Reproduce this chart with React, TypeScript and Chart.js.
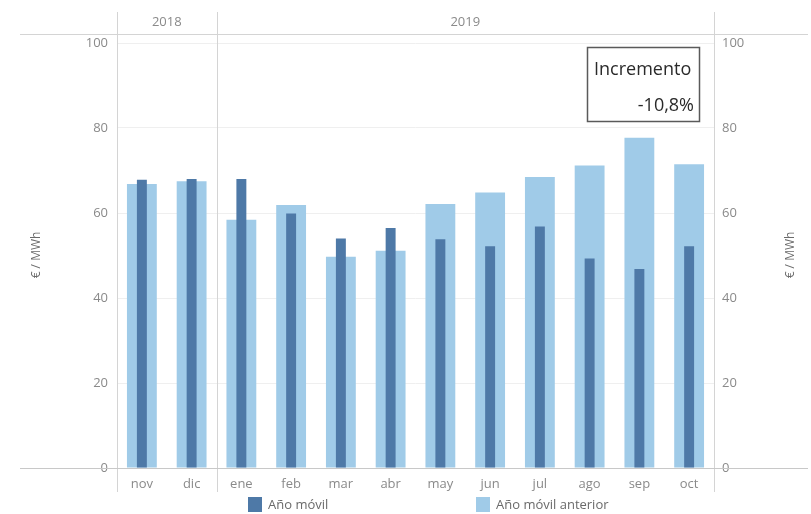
import React, { useEffect, useRef } from "react";
import { Chart, registerables } from "chart.js";

Chart.register(...registerables);

const categories = ["nov", "dic", "ene", "feb", "mar", "abr", "may", "jun", "jul", "ago", "sep", "oct"];
const yearLabels = ["2018", "2019"];
const yearStartIndex = [0, 2];
const anoMovil = [67.8, 68.0, 68.0, 59.9, 54.0, 56.5, 53.8, 52.2, 56.8, 49.3, 46.8, 52.2];
const anoMovilAnterior = [66.8, 67.5, 58.4, 61.9, 49.7, 51.1, 62.1, 64.8, 68.5, 71.2, 77.7, 71.5];
const seriesNames = ["Año móvil", "Año móvil anterior"];
const yTicks = [0, 20, 40, 60, 80, 100];
const axisTitle = "€ / MWh";
const boxTitle = "Incremento";
const boxValue = "-10,8%";

const DARK = "#4e79a7";
const LIGHT = "#a0cbe8";
const TEXT = "#8a8a8a";
const LINE = "#d4d4d4";
const FONT = "'Open Sans', sans-serif";

const overlay = {
  id: "overlay",
  afterDraw(chart: any) {
    const ctx = chart.ctx;
    const area = chart.chartArea;
    const x = chart.scales.x;
    ctx.save();
    // frame lines
    ctx.strokeStyle = LINE;
    ctx.lineWidth = 1;
    const vx: number[] = [area.left];
    for (let i = 1; i < yearStartIndex.length; i++) {
      const k = yearStartIndex[i];
      vx.push((x.getPixelForValue(k - 1) + x.getPixelForValue(k)) / 2);
    }
    vx.push(area.right);
    vx.forEach((px) => {
      ctx.beginPath();
      ctx.moveTo(Math.round(px) + 0.5, 12);
      ctx.lineTo(Math.round(px) + 0.5, 492);
      ctx.stroke();
    });
    ctx.beginPath();
    ctx.moveTo(20, 34.5);
    ctx.lineTo(808, 34.5);
    ctx.stroke();
    ctx.strokeStyle = "#c8c8c8";
    ctx.beginPath();
    ctx.moveTo(20, Math.round(area.bottom) + 0.5);
    ctx.lineTo(808, Math.round(area.bottom) + 0.5);
    ctx.stroke();

    // year header
    ctx.fillStyle = TEXT;
    ctx.font = `13px ${FONT}`;
    ctx.textAlign = "center";
    ctx.textBaseline = "middle";
    yearLabels.forEach((lab, i) => {
      const l = vx[i];
      const r = vx[i + 1];
      ctx.fillText(lab, (l + r) / 2, 22);
    });

    // axis titles
    ctx.font = `12px ${FONT}`;
    ctx.fillStyle = "#6a6a6a";
    [37, 791].forEach((px) => {
      ctx.save();
      ctx.translate(px, 255);
      ctx.rotate(-Math.PI / 2);
      ctx.fillText(axisTitle, 0, 0);
      ctx.restore();
    });

    // legend
    ctx.font = `13px ${FONT}`;
    ctx.textAlign = "left";
    ctx.fillStyle = DARK;
    ctx.fillRect(248, 497, 14, 15);
    ctx.fillStyle = "#6a6a6a";
    ctx.fillText(seriesNames[0], 268, 505);
    ctx.fillStyle = LIGHT;
    ctx.fillRect(476, 497, 14, 15);
    ctx.fillStyle = "#6a6a6a";
    ctx.fillText(seriesNames[1], 496, 505);

    // increment box
    ctx.fillStyle = "#ffffff";
    ctx.fillRect(587, 47, 113, 75);
    ctx.strokeStyle = "#5a5a5a";
    ctx.lineWidth = 1.5;
    ctx.strokeRect(587.5, 47.5, 112, 74);
    ctx.fillStyle = "#2a2a2a";
    ctx.font = `18px ${FONT}`;
    ctx.textAlign = "left";
    ctx.fillText(boxTitle, 594, 70);
    ctx.textAlign = "right";
    ctx.fillText(boxValue, 694, 106);
    ctx.restore();
  },
};

export default function App() {
  const ref = useRef<HTMLCanvasElement | null>(null);
  useEffect(() => {
    if (!ref.current) return;
    const chart = new Chart(ref.current, {
      type: "bar",
      data: {
        labels: categories,
        datasets: [
          {
            label: seriesNames[0],
            data: anoMovil,
            backgroundColor: DARK,
            barPercentage: 0.2,
            categoryPercentage: 1,
            grouped: false,
          } as any,
          {
            label: seriesNames[1],
            data: anoMovilAnterior,
            backgroundColor: LIGHT,
            barPercentage: 0.6,
            categoryPercentage: 1,
            grouped: false,
          } as any,
        ],
      },
      options: {
        responsive: false,
        animation: false,
        layout: { padding: { top: 43, bottom: 0, left: 0, right: 0 } },
        plugins: { legend: { display: false }, tooltip: { enabled: false } },
        scales: {
          x: {
            grid: { display: false },
            border: { display: false },
            ticks: { color: TEXT, font: { family: FONT, size: 13 }, padding: 0, maxRotation: 0 },
            afterFit: (s: any) => {
              s.height = 46;
            },
          },
          y: {
            position: "left",
            min: 0,
            max: 100,
            afterBuildTicks: (s: any) => {
              s.ticks = yTicks.map((v) => ({ value: v }));
            },
            grid: { color: "#efefef", drawTicks: false },
            border: { display: false },
            ticks: { color: TEXT, font: { family: FONT, size: 13 }, padding: 9 },
            afterFit: (s: any) => {
              s.width = 117;
            },
          },
          y2: {
            position: "right",
            min: 0,
            max: 100,
            afterBuildTicks: (s: any) => {
              s.ticks = yTicks.map((v) => ({ value: v }));
            },
            grid: { display: false, drawTicks: false },
            border: { display: false },
            ticks: { color: TEXT, font: { family: FONT, size: 13 }, padding: 8 },
            afterFit: (s: any) => {
              s.width = 97;
            },
          },
        },
      } as any,
      plugins: [overlay],
    });
    return () => chart.destroy();
  }, []);
  return (
    <div style={{ position: "fixed", left: 0, top: 0, width: 811, height: 514, background: "#fff" }}>
      <canvas ref={ref} width={811} height={514} />
    </div>
  );
}
